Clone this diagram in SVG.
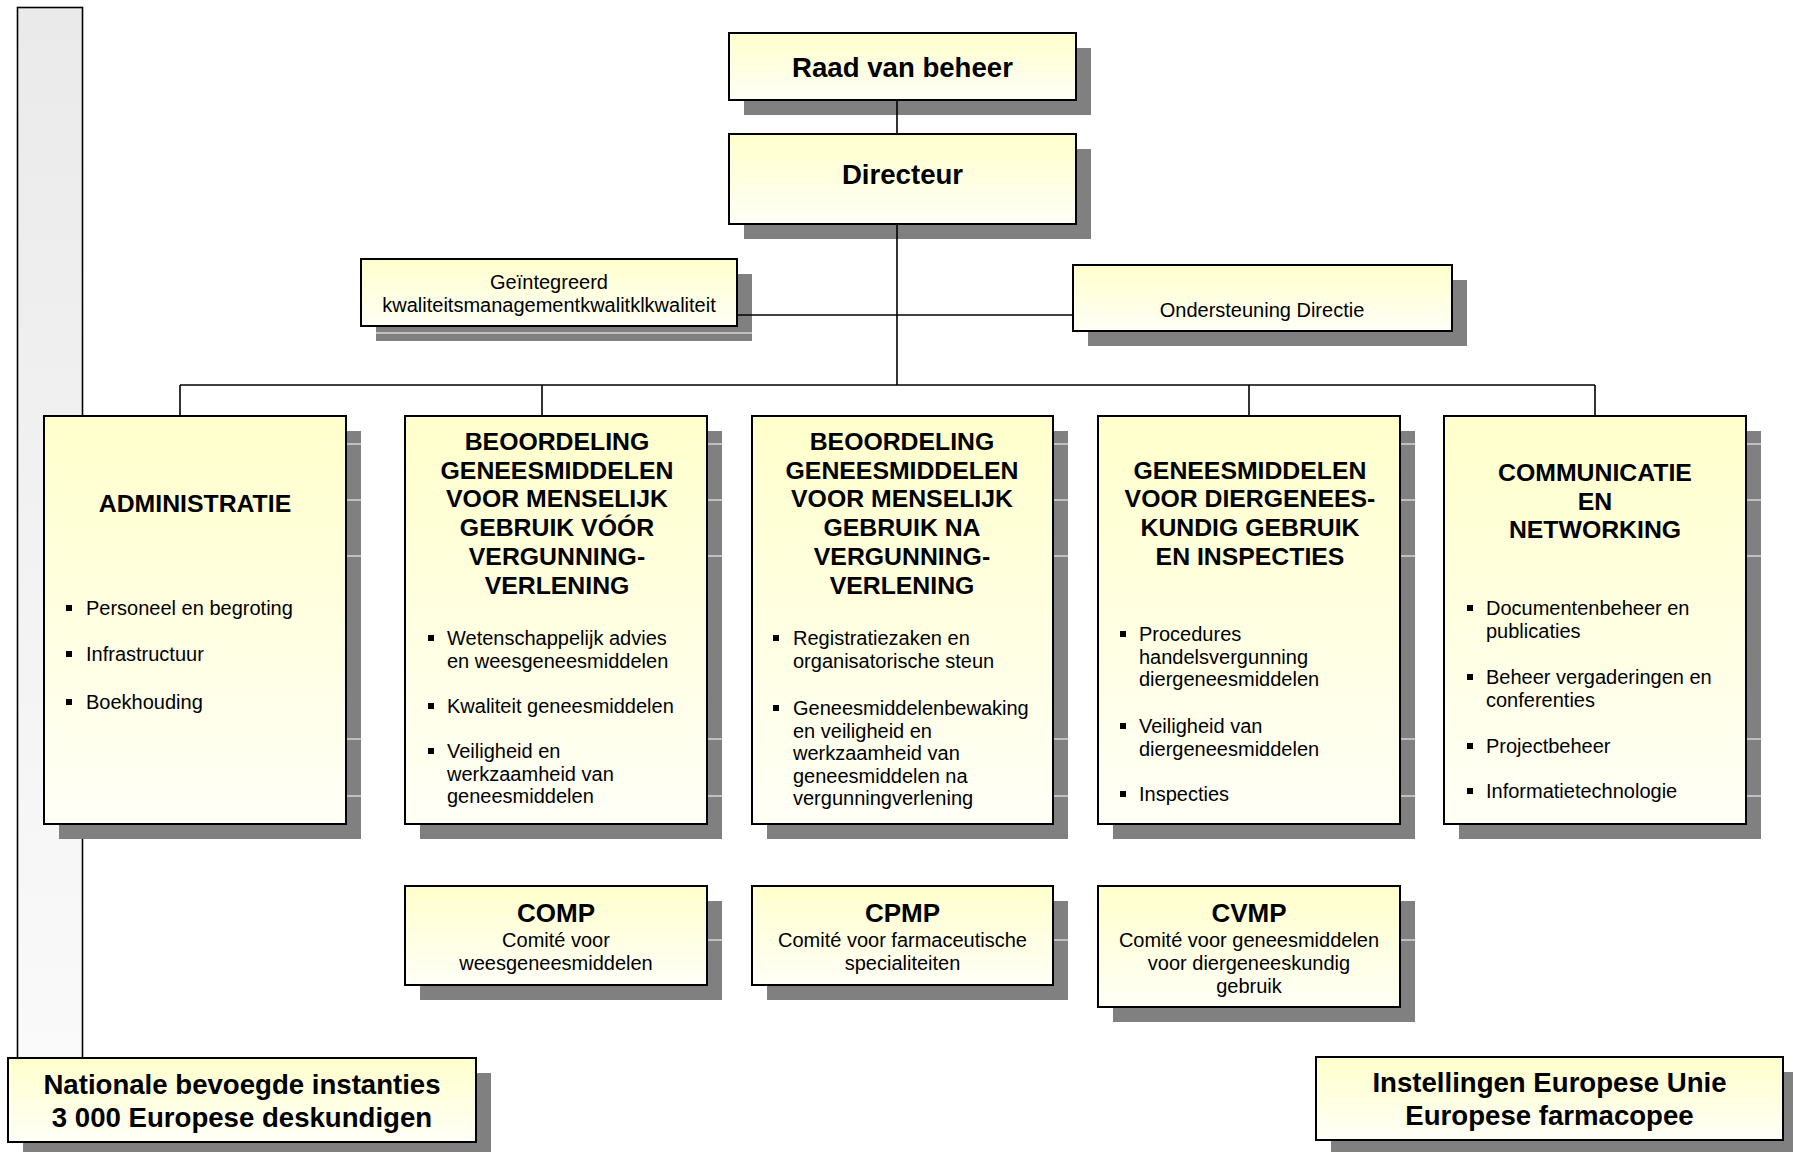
<svg xmlns="http://www.w3.org/2000/svg" width="1793" height="1152" viewBox="0 0 1793 1152">
<defs>
<linearGradient id="gy" x1="0" y1="0" x2="0" y2="1">
<stop offset="0" stop-color="#FFFFCC"/>
<stop offset="1" stop-color="#FFFFF7"/>
</linearGradient>
<linearGradient id="gg" x1="0" y1="0" x2="0" y2="1">
<stop offset="0" stop-color="#EAEAEA"/>
<stop offset="1" stop-color="#FAFAFA"/>
</linearGradient>
<style>
.sh{fill:#808080}
.bx{fill:url(#gy);stroke:#000;stroke-width:2}
.st{stroke:#fff;stroke-width:1.2}
.cn{stroke:#000;stroke-width:1.6;fill:none}
text{font-family:"Liberation Sans",Arial,sans-serif;fill:#000}
.h{font-weight:bold;font-size:24.8px;text-anchor:middle}
.h27{font-weight:bold;font-size:27.6px;text-anchor:middle}
.h26{font-weight:bold;font-size:26px;text-anchor:middle}
.c{font-size:20px;text-anchor:middle}
.l{font-size:20px}
.bl{fill:#000}
</style>
</defs>
<rect width="1793" height="1152" fill="#fff"/>

<g id="sidebar">
<rect x="17.5" y="7.5" width="65" height="1060" fill="url(#gg)" stroke="#000" stroke-width="1.6"/>
</g>

<g id="shadows">
<rect class="sh" x="744" y="48" width="347" height="67"/>
<rect class="sh" x="744" y="149" width="347" height="90"/>
<rect class="sh" x="376" y="274" width="376" height="67"/>
<line class="st" x1="376" y1="333" x2="752" y2="333"/>
<rect class="sh" x="1088" y="280" width="379" height="66"/>
<rect class="sh" x="59" y="431" width="302" height="408"/>
<rect class="sh" x="420" y="431" width="302" height="408"/>
<rect class="sh" x="767" y="431" width="301" height="408"/>
<rect class="sh" x="1113" y="431" width="302" height="408"/>
<rect class="sh" x="1459" y="431" width="302" height="408"/>
<g class="st">
<line x1="59" y1="444" x2="1761" y2="444"/>
<line x1="59" y1="500" x2="1761" y2="500"/>
<line x1="59" y1="556" x2="1761" y2="556"/>
<line x1="59" y1="739" x2="1761" y2="739"/>
<line x1="59" y1="796" x2="1761" y2="796"/>
</g>
<rect class="sh" x="420" y="901" width="302" height="99"/>
<rect class="sh" x="767" y="901" width="301" height="99"/>
<rect class="sh" x="1113" y="901" width="302" height="121"/>
<line class="st" x1="420" y1="940" x2="1415" y2="940"/>
<rect class="sh" x="23" y="1073" width="468" height="84"/>
<rect class="sh" x="1331" y="1072" width="467" height="83"/>
</g>

<g id="connectors">
<line class="cn" x1="897" y1="100" x2="897" y2="134"/>
<line class="cn" x1="897" y1="224" x2="897" y2="385"/>
<line class="cn" x1="737" y1="315" x2="1073" y2="315"/>
<line class="cn" x1="180" y1="385" x2="1595" y2="385"/>
<line class="cn" x1="180" y1="385" x2="180" y2="416"/>
<line class="cn" x1="542" y1="385" x2="542" y2="416"/>
<line class="cn" x1="1249" y1="385" x2="1249" y2="416"/>
<line class="cn" x1="1595" y1="385" x2="1595" y2="416"/>
</g>

<g id="raad">
<rect class="bx" x="729" y="33" width="347" height="67"/>
<text class="h27" x="902.5" y="77">Raad van beheer</text>
</g>

<g id="directeur">
<rect class="bx" x="729" y="134" width="347" height="90"/>
<text class="h27" x="902.5" y="184">Directeur</text>
</g>

<g id="kwaliteit">
<rect class="bx" x="361" y="259" width="376" height="67"/>
<text class="c" x="549" y="289">Geïntegreerd</text>
<text class="c" x="549" y="312">kwaliteitsmanagementkwalitklkwaliteit</text>
</g>

<g id="ondersteuning">
<rect class="bx" x="1073" y="265" width="379" height="66"/>
<text class="c" x="1262" y="317">Ondersteuning Directie</text>
</g>

<g id="administratie">
<rect class="bx" x="44" y="416" width="302" height="408"/>
<text class="h" x="195" y="512">ADMINISTRATIE</text>
<rect class="bl" x="66" y="605" width="6" height="6"/>
<text class="l" x="86" y="615">Personeel en begroting</text>
<rect class="bl" x="66" y="651" width="6" height="6"/>
<text class="l" x="86" y="661">Infrastructuur</text>
<rect class="bl" x="66" y="699" width="6" height="6"/>
<text class="l" x="86" y="709">Boekhouding</text>
</g>

<g id="voor-vergunning">
<rect class="bx" x="405" y="416" width="302" height="408"/>
<text class="h" x="557" y="450">BEOORDELING</text>
<text class="h" x="557" y="478.7">GENEESMIDDELEN</text>
<text class="h" x="557" y="507.4">VOOR MENSELIJK</text>
<text class="h" x="557" y="536.1">GEBRUIK VÓÓR</text>
<text class="h" x="557" y="564.8">VERGUNNING-</text>
<text class="h" x="557" y="593.5">VERLENING</text>
<rect class="bl" x="428" y="635" width="6" height="6"/>
<text class="l" x="447" y="645">Wetenschappelijk advies</text>
<text class="l" x="447" y="667.5">en weesgeneesmiddelen</text>
<rect class="bl" x="428" y="703" width="6" height="6"/>
<text class="l" x="447" y="713">Kwaliteit geneesmiddelen</text>
<rect class="bl" x="428" y="748" width="6" height="6"/>
<text class="l" x="447" y="758">Veiligheid en</text>
<text class="l" x="447" y="780.5">werkzaamheid van</text>
<text class="l" x="447" y="803">geneesmiddelen</text>
</g>

<g id="na-vergunning">
<rect class="bx" x="752" y="416" width="301" height="408"/>
<text class="h" x="902" y="450">BEOORDELING</text>
<text class="h" x="902" y="478.7">GENEESMIDDELEN</text>
<text class="h" x="902" y="507.4">VOOR MENSELIJK</text>
<text class="h" x="902" y="536.1">GEBRUIK NA</text>
<text class="h" x="902" y="564.8">VERGUNNING-</text>
<text class="h" x="902" y="593.5">VERLENING</text>
<rect class="bl" x="773" y="635" width="6" height="6"/>
<text class="l" x="793" y="645">Registratiezaken en</text>
<text class="l" x="793" y="667.5">organisatorische steun</text>
<rect class="bl" x="773" y="705" width="6" height="6"/>
<text class="l" x="793" y="715">Geneesmiddelenbewaking</text>
<text class="l" x="793" y="737.5">en veiligheid en</text>
<text class="l" x="793" y="760">werkzaamheid van</text>
<text class="l" x="793" y="782.5">geneesmiddelen na</text>
<text class="l" x="793" y="805">vergunningverlening</text>
</g>

<g id="diergeneeskundig">
<rect class="bx" x="1098" y="416" width="302" height="408"/>
<text class="h" x="1250" y="478.7">GENEESMIDDELEN</text>
<text class="h" x="1250" y="507.4">VOOR DIERGENEES-</text>
<text class="h" x="1250" y="536.1">KUNDIG GEBRUIK</text>
<text class="h" x="1250" y="564.8">EN INSPECTIES</text>
<rect class="bl" x="1120" y="631" width="6" height="6"/>
<text class="l" x="1139" y="641">Procedures</text>
<text class="l" x="1139" y="663.5">handelsvergunning</text>
<text class="l" x="1139" y="686">diergeneesmiddelen</text>
<rect class="bl" x="1120" y="723" width="6" height="6"/>
<text class="l" x="1139" y="733">Veiligheid van</text>
<text class="l" x="1139" y="755.5">diergeneesmiddelen</text>
<rect class="bl" x="1120" y="791" width="6" height="6"/>
<text class="l" x="1139" y="801">Inspecties</text>
</g>

<g id="communicatie">
<rect class="bx" x="1444" y="416" width="302" height="408"/>
<text class="h" x="1595" y="481">COMMUNICATIE</text>
<text class="h" x="1595" y="509.7">EN</text>
<text class="h" x="1595" y="538.4">NETWORKING</text>
<rect class="bl" x="1467" y="605" width="6" height="6"/>
<text class="l" x="1486" y="615">Documentenbeheer en</text>
<text class="l" x="1486" y="637.5">publicaties</text>
<rect class="bl" x="1467" y="674" width="6" height="6"/>
<text class="l" x="1486" y="684">Beheer vergaderingen en</text>
<text class="l" x="1486" y="706.5">conferenties</text>
<rect class="bl" x="1467" y="743" width="6" height="6"/>
<text class="l" x="1486" y="753">Projectbeheer</text>
<rect class="bl" x="1467" y="788" width="6" height="6"/>
<text class="l" x="1486" y="798">Informatietechnologie</text>
</g>

<g id="comp">
<rect class="bx" x="405" y="886" width="302" height="99"/>
<text class="h26" x="556" y="922">COMP</text>
<text class="c" x="556" y="947">Comité voor</text>
<text class="c" x="556" y="970">weesgeneesmiddelen</text>
</g>

<g id="cpmp">
<rect class="bx" x="752" y="886" width="301" height="99"/>
<text class="h26" x="902.5" y="922">CPMP</text>
<text class="c" x="902.5" y="947">Comité voor farmaceutische</text>
<text class="c" x="902.5" y="970">specialiteiten</text>
</g>

<g id="cvmp">
<rect class="bx" x="1098" y="886" width="302" height="121"/>
<text class="h26" x="1249" y="922">CVMP</text>
<text class="c" x="1249" y="947">Comité voor geneesmiddelen</text>
<text class="c" x="1249" y="970">voor diergeneeskundig</text>
<text class="c" x="1249" y="993">gebruik</text>
</g>

<g id="nationale">
<rect class="bx" x="8" y="1058" width="468" height="84"/>
<text class="h27" x="242" y="1094">Nationale bevoegde instanties</text>
<text class="h27" x="242" y="1127">3 000 Europese deskundigen</text>
</g>

<g id="instellingen">
<rect class="bx" x="1316" y="1057" width="467" height="83"/>
<text class="h27" x="1549.5" y="1092">Instellingen Europese Unie</text>
<text class="h27" x="1549.5" y="1125">Europese farmacopee</text>
</g>
</svg>
